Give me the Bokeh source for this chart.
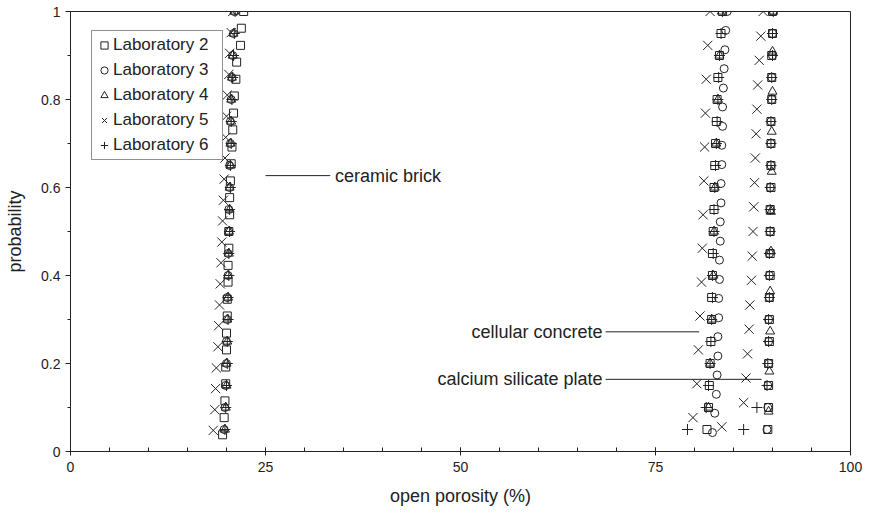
from bokeh.plotting import figure
from bokeh.models import Legend, LegendItem, FixedTicker, Range1d, Label
from bokeh.embed import file_html
from bokeh.resources import INLINE

# ---- probability levels (cumulative rank / n) ----
P10 = [0.1, 0.2, 0.3, 0.4, 0.5, 0.6, 0.7, 0.8, 0.9, 1.0]
P11 = [0.091, 0.182, 0.273, 0.364, 0.455, 0.545, 0.636, 0.727, 0.818, 0.909, 1.0]
P13 = [0.077, 0.154, 0.231, 0.308, 0.385, 0.462, 0.538, 0.615, 0.692, 0.769, 0.846, 0.923, 1.0]
P18 = [0.056, 0.111, 0.167, 0.222, 0.278, 0.333, 0.389, 0.444, 0.5, 0.556, 0.611, 0.667,
       0.722, 0.778, 0.833, 0.889, 0.944, 1.0]
P20 = [0.05, 0.1, 0.15, 0.2, 0.25, 0.3, 0.35, 0.4, 0.45, 0.5, 0.55, 0.6, 0.65, 0.7, 0.75,
       0.8, 0.85, 0.9, 0.95, 1.0]
P21 = [0.048, 0.095, 0.143, 0.19, 0.238, 0.286, 0.333, 0.381, 0.429, 0.476, 0.524, 0.571,
       0.619, 0.667, 0.714, 0.762, 0.81, 0.857, 0.905, 0.952, 1.0]
P23 = [0.043, 0.087, 0.13, 0.174, 0.217, 0.261, 0.304, 0.348, 0.391, 0.435, 0.478, 0.522,
       0.565, 0.609, 0.652, 0.696, 0.739, 0.783, 0.826, 0.87, 0.913, 0.957, 1.0]
P26 = [0.038, 0.077, 0.115, 0.154, 0.192, 0.231, 0.269, 0.308, 0.346, 0.385, 0.423, 0.462,
       0.5, 0.538, 0.577, 0.615, 0.654, 0.692, 0.731, 0.769, 0.808, 0.846, 0.885, 0.923,
       0.962, 1.0]

# ---- ceramic brick ----
brick_lab2 = [19.5, 19.7, 19.8, 19.9, 19.9, 20.0, 20.0, 20.1, 20.1, 20.2, 20.2, 20.3, 20.3,
              20.4, 20.4, 20.5, 20.6, 20.7, 20.8, 20.9, 21.0, 21.2, 21.3, 21.8, 21.9, 22.2]
brick_lab3 = [19.7, 19.8, 19.9, 20.0, 20.0, 20.1, 20.1, 20.2, 20.2, 20.3, 20.3, 20.4, 20.4,
              20.5, 20.5, 20.6, 20.7, 20.8, 20.9, 21.0]
brick_lab4 = [19.8, 19.9, 20.0, 20.0, 20.1, 20.1, 20.2, 20.2, 20.3, 20.3, 20.4, 20.4, 20.5,
              20.5, 20.6, 20.6, 20.7, 20.8, 20.9, 21.0]
brick_lab5 = [18.3, 18.5, 18.6, 18.7, 18.9, 19.0, 19.1, 19.2, 19.3, 19.4, 19.5, 19.6, 19.7,
              19.8, 19.9, 20.0, 20.1, 20.3, 20.4, 20.6, 20.8]
brick_lab6 = [19.8, 19.9, 20.0, 20.1, 20.1, 20.2, 20.2, 20.3, 20.3, 20.4, 20.4, 20.5, 20.5,
              20.6, 20.6, 20.7, 20.8, 20.9, 21.0, 21.1]

# ---- cellular concrete ----
cell_lab2 = [81.6, 81.8, 81.9, 82.0, 82.1, 82.2, 82.2, 82.3, 82.3, 82.4, 82.5, 82.5, 82.6,
             82.7, 82.8, 82.9, 83.0, 83.2, 83.4, 83.6]
cell_lab3 = [82.3, 82.6, 82.8, 82.9, 83.0, 83.0, 83.1, 83.1, 83.2, 83.2, 83.3, 83.3, 83.4,
             83.4, 83.5, 83.5, 83.6, 83.6, 83.7, 83.8, 83.9, 84.0, 84.2]
cell_lab4 = [81.8, 82.0, 82.2, 82.4, 82.5, 82.6, 82.8, 83.0, 83.2, 83.5]
cell_lab5 = [79.8, 80.3, 80.5, 80.7, 80.9, 81.0, 81.1, 81.2, 81.3, 81.4, 81.5, 81.7, 82.0]
cell_lab6 = [79.1, 81.5, 81.8, 82.0, 82.1, 82.2, 82.3, 82.3, 82.4, 82.5, 82.5, 82.6, 82.7,
             82.8, 82.9, 83.0, 83.1, 83.2, 83.4, 83.6]

# ---- calcium silicate plate ----
cal_lab2 = [89.4, 89.5, 89.5, 89.5, 89.6, 89.6, 89.6, 89.7, 89.7, 89.7, 89.7, 89.8, 89.8,
            89.8, 89.8, 89.9, 89.9, 89.9, 90.0, 90.0]
cal_lab3 = [89.3, 89.4, 89.4, 89.5, 89.5, 89.5, 89.6, 89.6, 89.6, 89.7, 89.7, 89.7, 89.8,
            89.8, 89.8, 89.9, 89.9, 90.0, 90.0, 90.1]
cal_lab4 = [89.5, 89.6, 89.7, 89.7, 89.8, 89.8, 89.9, 89.9, 90.0, 90.0, 90.1]
cal_lab5 = [83.5, 86.3, 86.6, 86.8, 87.0, 87.1, 87.3, 87.4, 87.5, 87.6, 87.7, 87.8, 87.9,
            88.0, 88.1, 88.3, 88.5, 88.8]
cal_lab6 = [86.3, 88.0, 89.3, 89.4, 89.5, 89.5, 89.6, 89.6, 89.6, 89.7, 89.7, 89.7, 89.8,
            89.8, 89.8, 89.9, 89.9, 90.0, 90.0, 90.1]

labs = ["Laboratory 2", "Laboratory 3", "Laboratory 4", "Laboratory 5", "Laboratory 6"]
x_ticks = [0, 25, 50, 75, 100]
y_ticks = [0, 0.2, 0.4, 0.6, 0.8, 1.0]

# annotation labels: text, probability level, leader line start / end (% porosity)
ann_text = ["ceramic brick", "cellular concrete", "calcium silicate plate"]
ann_y = [0.627, 0.272, 0.164]
ann_x0 = [25.0, 68.6, 68.6]
ann_x1 = [33.3, 80.6, 88.6]

FONT = "Liberation Sans"
INK = "#222222"

p = figure(width=869, height=517, output_backend="svg", toolbar_location=None,
           x_range=Range1d(0, 100), y_range=Range1d(0, 1),
           min_border_left=70, min_border_right=19, min_border_top=11, min_border_bottom=66)
p.grid.visible = False
p.outline_line_color = INK
p.outline_line_width = 1
p.background_fill_color = "white"
p.border_fill_color = "white"

# axes
p.xaxis.ticker = FixedTicker(ticks=x_ticks, minor_ticks=list(range(0, 101, 5)))
p.yaxis.ticker = FixedTicker(ticks=y_ticks, minor_ticks=[round(i * 0.1, 1) for i in range(11)])
p.yaxis.major_label_overrides = {0: "0", 0.2: "0.2", 0.4: "0.4", 0.6: "0.6", 0.8: "0.8", 1.0: "1"}
p.xaxis.axis_label = "open porosity (%)"
p.yaxis.axis_label = "probability"
for ax in (p.xaxis, p.yaxis):
    ax.axis_line_color = INK
    ax.major_tick_line_color = INK
    ax.minor_tick_line_color = INK
    ax.major_label_text_font = FONT
    ax.major_label_text_font_size = "14px"
    ax.major_label_text_color = INK
    ax.axis_label_text_font = FONT
    ax.axis_label_text_font_size = "18px"
    ax.axis_label_text_font_style = "normal"
    ax.axis_label_text_color = INK
p.xaxis.major_tick_in = 4
p.xaxis.major_tick_out = 4
p.xaxis.minor_tick_in = 4
p.xaxis.minor_tick_out = 0
p.xaxis.major_label_standoff = 6
p.xaxis.axis_label_standoff = 11
p.yaxis.major_tick_in = 0
p.yaxis.major_tick_out = 5
p.yaxis.minor_tick_in = 0
p.yaxis.minor_tick_out = 3
p.yaxis.major_label_standoff = 5
p.yaxis.axis_label_standoff = 13

common = dict(line_color=INK, fill_color=None, line_width=1)
sets = [
    ("square", 8, [(brick_lab2, P26), (cell_lab2, P20), (cal_lab2, P20)]),
    ("circle", 8, [(brick_lab3, P20), (cell_lab3, P23), (cal_lab3, P20)]),
    ("triangle", 9, [(brick_lab4, P20), (cell_lab4, P10), (cal_lab4, P11)]),
    ("x", 13, [(brick_lab5, P21), (cell_lab5, P13), (cal_lab5, P18)]),
    ("cross", 11, [(brick_lab6, P20), (cell_lab6, P20), (cal_lab6, P20)]),
]
items = []
for lab, (marker, size, groups) in zip(labs, sets):
    rends = []
    for xs, ps in groups:
        r = p.scatter(x=xs, y=ps, marker=marker, size=size, **common)
        rends.append(r)
    items.append(LegendItem(label=lab, renderers=[rends[0]]))

# annotations
p.segment(x0=ann_x0, y0=ann_y, x1=ann_x1, y1=ann_y, line_color=INK, line_width=1)
p.add_layout(Label(x=ann_x1[0] + 0.6, y=ann_y[0], text=ann_text[0], text_font=FONT,
                   text_font_size="18px", text_baseline="middle", text_align="left",
                   text_color=INK))
for i in (1, 2):
    p.add_layout(Label(x=ann_x0[i] - 0.4, y=ann_y[i], text=ann_text[i], text_font=FONT,
                       text_font_size="18px", text_baseline="middle", text_align="right",
                       text_color=INK))

legend = Legend(items=items, location=(21, 291), label_text_font=FONT,
                label_text_font_size="17px", label_text_color=INK,
                glyph_width=18, glyph_height=18, label_height=22, label_width=106,
                label_standoff=0, spacing=3, padding=3, margin=0,
                border_line_color=INK, border_line_width=1,
                background_fill_color="white", background_fill_alpha=1.0)
p.add_layout(legend)

open("out.html", "w").write(file_html(p, INLINE))
